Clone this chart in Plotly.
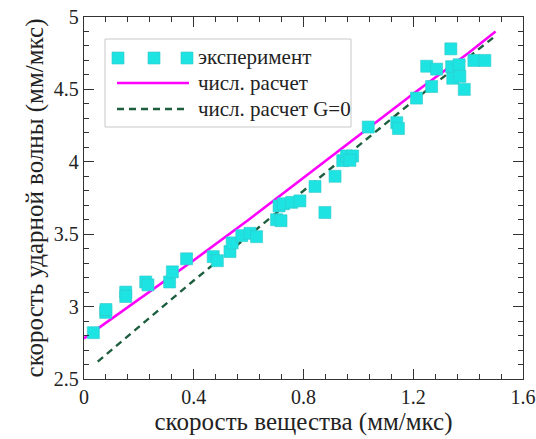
import plotly.graph_objects as go

# Experimental data: particle velocity u (mm/us) vs shock velocity D (mm/us)
exp_u = [0.034, 0.079, 0.080, 0.152, 0.152, 0.225, 0.233, 0.312, 0.322, 0.374,
         0.471, 0.486, 0.532, 0.540, 0.575, 0.605, 0.629, 0.702, 0.718, 0.711,
         0.727, 0.757, 0.787, 0.842, 0.878, 0.915, 0.943, 0.957, 0.979, 0.969,
         1.036, 1.140, 1.146, 1.212, 1.267, 1.249, 1.285, 1.337, 1.340, 1.367,
         1.344, 1.370, 1.386, 1.421, 1.461]
exp_D = [2.82, 2.96, 2.98, 3.10, 3.07, 3.17, 3.15, 3.17, 3.24, 3.33,
         3.345, 3.317, 3.38, 3.44, 3.49, 3.506, 3.483, 3.60, 3.593, 3.695,
         3.71, 3.72, 3.73, 3.83, 3.65, 3.90, 4.008, 4.04, 4.04, 4.01,
         4.24, 4.27, 4.23, 4.44, 4.52, 4.66, 4.64, 4.78, 4.657, 4.67,
         4.577, 4.59, 4.50, 4.70, 4.70]

# Numerical calculation
calc_u = [0.0, 0.2, 0.4, 0.6, 0.8, 1.0, 1.2, 1.4, 1.5]
calc_D = [2.78, 3.05, 3.32, 3.60, 3.89, 4.18, 4.47, 4.75, 4.90]

# Numerical calculation with G=0
calc0_u = [0.05, 0.2, 0.4, 0.6, 0.8, 1.0, 1.2, 1.4, 1.5]
calc0_D = [2.62, 2.86, 3.18, 3.49, 3.80, 4.11, 4.42, 4.72, 4.87]

legend_labels = ["эксперимент", "числ. расчет", "числ. расчет G=0"]

CYAN = "#1ee3e3"
MAGENTA = "#ff00ff"
GREEN = "#1d5e3e"
INK = "#222222"
FONT = "'Liberation Serif', 'Times New Roman', serif"

fig = go.Figure()
fig.add_trace(go.Scatter(x=calc_u, y=calc_D, mode="lines",
                         line=dict(color=MAGENTA, width=2.6), name=legend_labels[1]))
fig.add_trace(go.Scatter(x=calc0_u, y=calc0_D, mode="lines",
                         line=dict(color=GREEN, width=2.4, dash="7px,5px"), name=legend_labels[2]))
fig.add_trace(go.Scatter(x=exp_u, y=exp_D, mode="markers",
                         marker=dict(symbol="square", size=12, color=CYAN,
                                     line=dict(color="#2fc9c9", width=0.6)),
                         name=legend_labels[0]))

axis_common = dict(
    showline=True, linecolor="#333333", linewidth=1.4, mirror="allticks",
    ticks="inside", ticklen=10, tickwidth=1.3, tickcolor="#333333",
    showgrid=False, zeroline=False, automargin=False,
    tickfont=dict(family=FONT, size=20, color=INK),
    title_font=dict(family=FONT, size=25, color=INK),
)

fig.update_xaxes(range=[0, 1.6], dtick=0.4, tick0=0,
                 minor=dict(dtick=0.08, ticks="inside", ticklen=5, tickcolor="#333333", showgrid=False),
                 title_text="скорость вещества (мм/мкс)", title_standoff=1, **axis_common)
fig.update_yaxes(range=[2.5, 5], dtick=0.5, tick0=2.5,
                 minor=dict(dtick=0.1, ticks="inside", ticklen=5, tickcolor="#333333", showgrid=False),
                 title_text="скорость ударной волны (мм/мкс)", title_standoff=3, **axis_common)

# Hand-built legend box in the upper-left corner
def px_x(p):
    return (p - 84) / 439.0

def px_y(p):
    return (379 - p) / 362.0

shapes = [dict(type="rect", xref="paper", yref="paper",
               x0=px_x(105), x1=px_x(351), y0=px_y(127), y1=px_y(39),
               line=dict(color="#c8c8c8", width=1), fillcolor="white", layer="below")]
for cx in (118, 154, 187):
    shapes.append(dict(type="rect", xref="paper", yref="paper",
                       x0=px_x(cx - 6), x1=px_x(cx + 6),
                       y0=px_y(58 + 6), y1=px_y(58 - 6),
                       line=dict(color="#2fc9c9", width=0.6), fillcolor=CYAN))
shapes.append(dict(type="line", xref="paper", yref="paper",
                   x0=px_x(117), x1=px_x(189), y0=px_y(83), y1=px_y(83),
                   line=dict(color=MAGENTA, width=2.6)))
shapes.append(dict(type="line", xref="paper", yref="paper",
                   x0=px_x(117), x1=px_x(189), y0=px_y(109), y1=px_y(109),
                   line=dict(color=GREEN, width=2.4, dash="7px,5px")))

annotations = []
for label, ypix in zip(legend_labels, (57, 83, 109)):
    annotations.append(dict(text=label, xref="paper", yref="paper",
                            x=px_x(196), y=px_y(ypix), xanchor="left", yanchor="middle",
                            showarrow=False, font=dict(family=FONT, size=21, color=INK)))

fig.update_layout(
    width=536, height=439,
    margin=dict(l=84, r=13, t=17, b=60),
    paper_bgcolor="white", plot_bgcolor="white",
    showlegend=False,
    shapes=shapes, annotations=annotations,
)

fig.write_html("out.html")
